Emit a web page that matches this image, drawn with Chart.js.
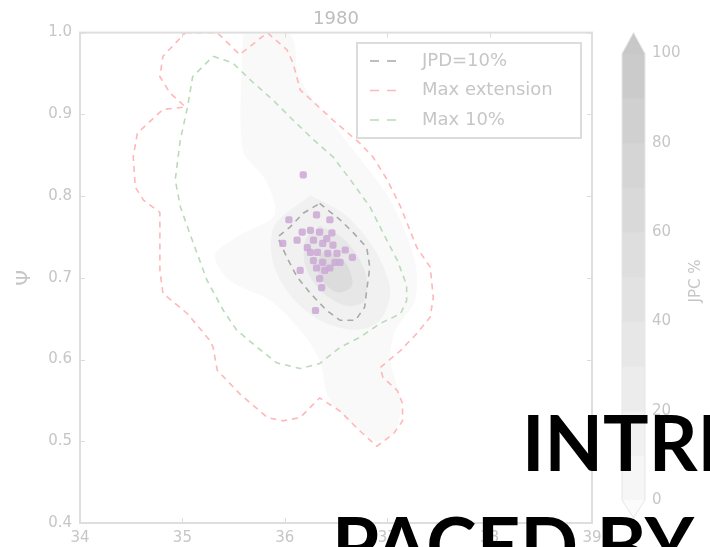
<!DOCTYPE html>
<html><head><meta charset="utf-8">
<script src="https://cdn.jsdelivr.net/npm/chart.js@4.4.0/dist/chart.umd.min.js"></script>
<style>
html,body{margin:0;padding:0;background:#fff;overflow:hidden;width:710px;height:547px;}
#wrap{position:relative;width:710px;height:547px;overflow:hidden;}
canvas{position:absolute;left:0;top:0;}
.ov{position:absolute;font-family:Lato,'Open Sans',sans-serif;font-weight:700;color:#000;font-size:76px;line-height:76px;white-space:nowrap;}
</style></head><body>
<div id="wrap"><canvas id="c" width="710" height="547"></canvas>
<div class="ov" style="left:522px;top:404px">INTRI</div>
<div class="ov" style="left:332px;top:506px">PACED BY A</div>
</div>
<script>
// ---------- data ----------
const chartTitle = '1980';
const xTicks = [34, 35, 36, 37, 38, 39];
const yTicks = [0.4, 0.5, 0.6, 0.7, 0.8, 0.9, 1.0];
const cbTicks = [0, 20, 40, 60, 80, 100];
const cbLevels = [0, 10, 20, 30, 40, 50, 60, 70, 80, 90, 100];
const cbColors = ['#f6f6f6','#f1f1f1','#ececec','#e7e7e7','#e2e2e2','#dedede','#d9d9d9','#d5d5d5','#d0d0d0','#cbcbcb'];
const seriesLabels = ['JPD=10%', 'Max extension', 'Max 10%'];

const jpdX = [36.34,36.54,36.67,36.80,36.83,36.80,36.78,36.69,36.54,36.41,36.25,36.12,36.02,35.93,36.05,36.18,36.34];
const jpdY = [0.791,0.771,0.755,0.737,0.713,0.685,0.664,0.648,0.648,0.660,0.681,0.701,0.725,0.750,0.762,0.779,0.791];

const maxExtX = [35.03,35.34,35.56,35.83,36.02,36.08,36.15,36.47,36.73,36.86,37.00,37.13,37.29,37.42,37.45,37.42,37.29,37.13,36.93,36.96,37.10,37.15,37.15,37.06,36.90,36.73,36.54,36.34,36.15,35.98,35.83,35.56,35.34,35.30,35.27,35.05,34.81,34.78,34.78,34.62,34.54,34.52,34.56,34.81,35.03,34.88,34.78,34.81,35.03];
const maxExtY = [1.000,1.000,0.973,1.000,0.979,0.963,0.930,0.893,0.865,0.848,0.820,0.787,0.737,0.713,0.676,0.652,0.632,0.611,0.590,0.578,0.562,0.546,0.525,0.509,0.494,0.513,0.537,0.553,0.529,0.525,0.529,0.558,0.587,0.615,0.623,0.656,0.681,0.709,0.780,0.795,0.811,0.848,0.877,0.906,0.909,0.926,0.946,0.971,1.000];

const max10X = [35.30,35.49,35.69,35.88,36.08,36.28,36.47,36.64,36.83,36.96,37.10,37.19,37.19,37.13,36.93,36.73,36.54,36.34,36.15,35.92,35.73,35.53,35.40,35.24,35.07,34.98,34.93,34.98,35.05,35.10,35.30];
const max10Y = [0.971,0.963,0.939,0.918,0.893,0.869,0.848,0.820,0.787,0.755,0.721,0.691,0.672,0.656,0.644,0.627,0.615,0.595,0.589,0.596,0.615,0.636,0.660,0.697,0.755,0.787,0.820,0.869,0.909,0.946,0.971];

// filled JPC contour levels (outer to core)
const jpcOuterX = [35.59,36.05,36.15,36.59,37.03,37.27,37.27,37.08,37.03,37.13,37.08,36.88,36.44,36.34,36.15,35.86,35.46,35.32,35.56,35.90,35.81,35.59,35.59];
const jpcOuterY = [0.998,0.998,0.942,0.869,0.795,0.721,0.672,0.636,0.599,0.550,0.513,0.501,0.550,0.599,0.636,0.672,0.697,0.728,0.752,0.777,0.820,0.856,0.998];
const jpcMidX = [36.25,36.59,36.88,37.03,36.93,36.69,36.34,36.05,35.88,35.90,36.25];
const jpcMidY = [0.801,0.777,0.734,0.685,0.648,0.636,0.648,0.679,0.721,0.764,0.801];
const jpcInnerX = [36.34,36.59,36.78,36.78,36.59,36.34,36.20,36.20,36.34];
const jpcInnerY = [0.764,0.746,0.709,0.672,0.666,0.685,0.715,0.746,0.764];
const jpcCoreX = [36.39,36.59,36.66,36.52,36.36,36.32,36.39];
const jpcCoreY = [0.734,0.719,0.691,0.682,0.697,0.719,0.734];

// observed points
const obsX = [36.18,36.04,36.31,36.44,36.46,36.17,36.25,36.34,36.12,35.98,36.28,36.37,36.47,36.32,36.42,36.51,36.28,36.37,36.49,36.66,36.31,36.44,36.15,36.34,36.36,36.30,36.22,36.41,36.54,36.59,36.39,36.25];
const obsY = [0.826,0.771,0.777,0.771,0.755,0.756,0.758,0.756,0.746,0.742,0.746,0.742,0.740,0.731,0.730,0.730,0.721,0.719,0.719,0.725,0.712,0.712,0.709,0.699,0.688,0.660,0.737,0.748,0.719,0.734,0.709,0.731];

// ---------- build ----------
const zip = (xs, ys) => xs.map((x, i) => ({x, y: ys[i]}));
const FONT = "'DejaVu Sans', sans-serif";
const TXT = '#c6c6c6';

const lineDs = (label, xs, ys, color) => ({
  label, data: zip(xs, ys), showLine: true, borderColor: color, borderWidth: 1.6,
  borderDash: [6, 5], pointRadius: 0, fill: false, tension: 0
});
const fillDs = (xs, ys, color) => ({
  label: '', data: zip(xs, ys), showLine: true, borderWidth: 0, borderColor: 'rgba(0,0,0,0)',
  backgroundColor: color, fill: 'shape', pointRadius: 0, tension: 0.3
});

const datasets = [
  {label: 'obs', data: zip(obsX, obsY), pointStyle: 'rectRounded', pointRadius: 4.2,
   backgroundColor: 'rgba(203,168,214,0.85)', borderWidth: 0, showLine: false},
  lineDs(seriesLabels[0], jpdX, jpdY, '#a9a9a9'),
  lineDs(seriesLabels[1], maxExtX, maxExtY, '#ffb7b7'),
  lineDs(seriesLabels[2], max10X, max10Y, '#b9dbb9'),
  fillDs(jpcCoreX, jpcCoreY, '#dcdcdc'),
  fillDs(jpcInnerX, jpcInnerY, '#e7e7e7'),
  fillDs(jpcMidX, jpcMidY, '#f1f1f1'),
  fillDs(jpcOuterX, jpcOuterY, '#f9f9f9')
];

const decor = {
  id: 'decor',
  afterDatasetsDraw(chart) {
    const {ctx, chartArea: a, scales} = chart;
    ctx.save();
    ctx.strokeStyle = '#dcdcdc'; ctx.lineWidth = 1;
    ctx.beginPath();
    xTicks.forEach(v => {
      const px = Math.round(scales.x.getPixelForValue(v)) + 0.5;
      ctx.moveTo(px, a.bottom); ctx.lineTo(px, a.bottom - 5);
      ctx.moveTo(px, a.top); ctx.lineTo(px, a.top + 5);
    });
    yTicks.forEach(v => {
      const py = Math.round(scales.y.getPixelForValue(v)) + 0.5;
      ctx.moveTo(a.left, py); ctx.lineTo(a.left + 5, py);
      ctx.moveTo(a.right, py); ctx.lineTo(a.right - 5, py);
    });
    ctx.stroke();
    ctx.strokeStyle = '#dedede'; ctx.lineWidth = 2;
    ctx.strokeRect(a.left, a.top, a.right - a.left, a.bottom - a.top);
    ctx.restore();
  },
  afterDraw(chart) {
    const {ctx, chartArea: a, scales} = chart;
    ctx.save();
    // legend box
    const lx = 357, ly = 43, lw = 224, lh = 95;
    ctx.fillStyle = '#fff'; ctx.fillRect(lx, ly, lw, lh);
    ctx.strokeStyle = '#dcdcdc'; ctx.lineWidth = 2; ctx.strokeRect(lx, ly, lw, lh);
    ctx.font = '18px ' + FONT; ctx.textBaseline = 'middle'; ctx.textAlign = 'left';
    [1, 2, 3].forEach((di, i) => {
      const ds = chart.data.datasets[di];
      const ry = 61 + i * 29.5;
      ctx.strokeStyle = ds.borderColor; ctx.lineWidth = 1.6; ctx.setLineDash([9, 8]);
      ctx.beginPath(); ctx.moveTo(370, ry); ctx.lineTo(398, ry); ctx.stroke();
      ctx.setLineDash([]);
      ctx.fillStyle = TXT; ctx.fillText(ds.label, 422, ry);
    });
    // colorbar
    const cb = scales.cb;
    const x0 = 622, w = 23, xm = x0 + w / 2;
    for (let i = 0; i < cbColors.length; i++) {
      const yTop = cb.getPixelForValue(cbLevels[i + 1]);
      const yBot = cb.getPixelForValue(cbLevels[i]);
      ctx.fillStyle = cbColors[i];
      ctx.fillRect(x0, yTop, w, yBot - yTop + 0.5);
    }
    const yMax = cb.getPixelForValue(cbLevels[cbLevels.length - 1]);
    const yMin = cb.getPixelForValue(cbLevels[0]);
    ctx.fillStyle = '#c8c8c8';
    ctx.beginPath(); ctx.moveTo(x0, yMax + 0.5); ctx.lineTo(xm, a.top); ctx.lineTo(x0 + w, yMax + 0.5); ctx.closePath(); ctx.fill();
    ctx.fillStyle = '#fbfbfb';
    ctx.beginPath(); ctx.moveTo(x0, yMin); ctx.lineTo(xm, a.bottom - 5); ctx.lineTo(x0 + w, yMin); ctx.closePath(); ctx.fill();
    ctx.strokeStyle = '#e6e6e6'; ctx.lineWidth = 1;
    ctx.beginPath();
    ctx.moveTo(x0, yMax); ctx.lineTo(xm, a.top); ctx.lineTo(x0 + w, yMax);
    ctx.lineTo(x0 + w, yMin); ctx.lineTo(xm, a.bottom - 5); ctx.lineTo(x0, yMin); ctx.closePath();
    ctx.stroke();
    // colorbar label
    ctx.translate(696, 281); ctx.rotate(-Math.PI / 2);
    ctx.font = '15px ' + FONT; ctx.fillStyle = TXT; ctx.textAlign = 'center'; ctx.textBaseline = 'middle';
    ctx.fillText('JPC %', 0, 0);
    ctx.restore();
  }
};

new Chart(document.getElementById('c'), {
  type: 'scatter',
  data: {datasets},
  options: {
    responsive: false, animation: false, events: [],
    layout: {padding: 0},
    plugins: {
      legend: {display: false}, tooltip: {enabled: false},
      title: {display: true, text: chartTitle, fullSize: false, color: '#bdbdbd',
              font: {family: FONT, size: 18, weight: 'normal'}, padding: {top: 9, bottom: 2}}
    },
    scales: {
      x: {
        type: 'linear', min: 34, max: 39,
        afterBuildTicks: s => { s.ticks = xTicks.map(v => ({value: v})); },
        afterFit: s => { s.height = 24; },
        grid: {display: false, drawTicks: false}, border: {display: false},
        ticks: {color: TXT, font: {family: FONT, size: 15}, padding: 6, maxRotation: 0, callback: v => String(v)}
      },
      y: {
        type: 'linear', min: 0.4, max: 1.0,
        afterBuildTicks: s => { s.ticks = yTicks.map(v => ({value: v})); },
        afterFit: s => { s.width = 80; },
        grid: {display: false, drawTicks: false}, border: {display: false},
        ticks: {color: TXT, font: {family: FONT, size: 15}, padding: 8, callback: v => v.toFixed(1)},
        title: {display: true, text: 'Ψ', color: TXT, font: {family: FONT, size: 20}, padding: {top: 13, bottom: 0}}
      },
      cb: {
        type: 'linear', position: 'right', min: -5.16, max: 104.7,
        afterBuildTicks: s => { s.ticks = cbTicks.map(v => ({value: v})); },
        afterFit: s => { s.width = 118; },
        grid: {display: false, drawTicks: true, tickLength: 58, drawOnChartArea: false}, border: {display: false},
        ticks: {color: TXT, font: {family: FONT, size: 15}, padding: 2, callback: v => String(v)}
      }
    }
  },
  plugins: [decor]
});
</script>
</body></html>
